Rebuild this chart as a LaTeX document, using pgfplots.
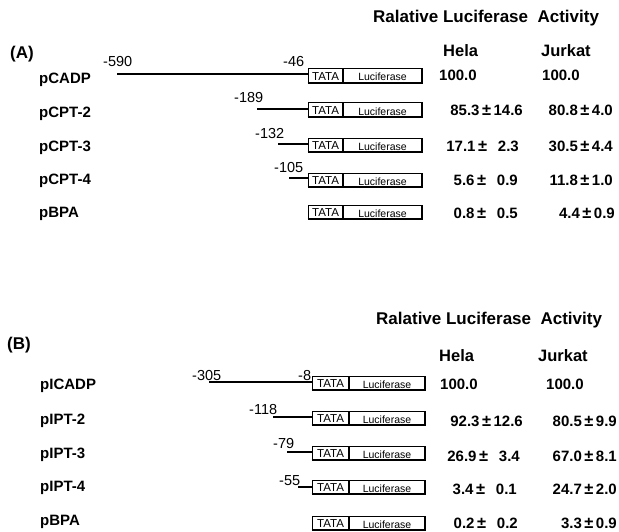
\documentclass[border=0pt]{standalone}
\usepackage{fontspec}
\setmainfont{Liberation Sans}
\usepackage{pgfplots}
\pgfplotsset{compat=1.18}
\newcommand{\fs}[1]{\fontsize{#1bp}{#1bp}\selectfont}
\newcommand{\PM}{\kern2.5bp{\fontsize{16.5bp}{16.5bp}\selectfont ±}\kern2.5bp}
% box row: #1 row y, #2 box left, #3 divider, #4 box right
\newcommand{\boxrow}[4]{%
  \addplot[black, line width=1.0bp] coordinates {(#2,#1-7) (#4,#1-7)};
  \addplot[black, line width=1.0bp] coordinates {(#2,#1-7) (#2,#1+7)};
  \addplot[black, line width=2.0bp] coordinates {(#2-0.5,#1+7) (#4,#1+7) (#4,#1-7.5)};
  \addplot[black, line width=1.3bp] coordinates {(#3,#1-7) (#3,#1+7)};
  \node[anchor=base, font=\fs{11.5}] at (axis cs:{(#2+#3)/2},#1+4.5) {TATA};
  \node[anchor=base, font=\fs{10.5}] at (axis cs:{(#3+#4)/2},#1+5) {Luciferase};
}
\begin{document}
\begin{tikzpicture}[every node/.append style={inner sep=0pt}]
\begin{axis}[
  width=619bp, height=532bp, scale only axis,
  xmin=0, xmax=619, ymin=0, ymax=532, y dir=reverse,
  hide axis, clip=false,
]
\addplot[draw=none, forget plot] coordinates {(0,0) (619,532)};
% ---------- Panel A ----------
\node[anchor=base west, font=\bfseries\fs{17}] at (axis cs:373,23) {Ralative Luciferase\ \ Activity};
\node[anchor=base west, font=\bfseries\fs{17}] at (axis cs:10,59) {(A)};
\node[anchor=base west, font=\bfseries\fs{16.5}] at (axis cs:443,57) {Hela};
\node[anchor=base west, font=\bfseries\fs{16.5}] at (axis cs:541,57) {Jurkat};
% promoter lines
\addplot[black, line width=1.8bp] coordinates {(117,74) (308,74)};
\addplot[black, line width=1.4bp] coordinates {(257,109) (308,109)};
\addplot[black, line width=1.4bp] coordinates {(278,144) (308,144)};
\addplot[black, line width=1.4bp] coordinates {(289,178) (308,178)};
% boxes
\boxrow{76}{308}{343}{422}
\boxrow{110}{308}{343}{422}
\boxrow{145}{308}{343}{422}
\boxrow{180}{308}{343}{422}
\boxrow{212}{308}{343}{422}
% position labels
\node[anchor=base west, font=\fs{14.5}] at (axis cs:103,67) {-590};
\node[anchor=base west, font=\fs{14.5}] at (axis cs:283,67) {-46};
\node[anchor=base west, font=\fs{14.5}] at (axis cs:234,102) {-189};
\node[anchor=base west, font=\fs{14.5}] at (axis cs:255,138) {-132};
\node[anchor=base west, font=\fs{14.5}] at (axis cs:274,172) {-105};
% construct names
\node[anchor=base west, font=\bfseries\fs{15}] at (axis cs:39,84) {pCADP};
\node[anchor=base west, font=\bfseries\fs{15}] at (axis cs:39,117) {pCPT-2};
\node[anchor=base west, font=\bfseries\fs{15}] at (axis cs:39,151) {pCPT-3};
\node[anchor=base west, font=\bfseries\fs{15}] at (axis cs:39,184) {pCPT-4};
\node[anchor=base west, font=\bfseries\fs{15}] at (axis cs:39,217) {pBPA};
% values
\node[anchor=base west, font=\bfseries\fs{15}] at (axis cs:439,81) {100.0};
\node[anchor=base west, font=\bfseries\fs{15}] at (axis cs:542,81) {100.0};
\node[anchor=base east, font=\bfseries\fs{15}] at (axis cs:523,115) {85.3\PM14.6};
\node[anchor=base east, font=\bfseries\fs{15}] at (axis cs:613,115) {80.8\PM4.0};
\node[anchor=base east, font=\bfseries\fs{15}] at (axis cs:519,151) {17.1\PM\ \ 2.3};
\node[anchor=base east, font=\bfseries\fs{15}] at (axis cs:613,151) {30.5\PM4.4};
\node[anchor=base east, font=\bfseries\fs{15}] at (axis cs:518,185) {5.6\PM\ \ 0.9};
\node[anchor=base east, font=\bfseries\fs{15}] at (axis cs:613,185) {11.8\PM1.0};
\node[anchor=base east, font=\bfseries\fs{15}] at (axis cs:518,218) {0.8\PM\ \ 0.5};
\node[anchor=base east, font=\bfseries\fs{15}] at (axis cs:615,218) {4.4\PM0.9};
% ---------- Panel B ----------
\node[anchor=base west, font=\bfseries\fs{17}] at (axis cs:376,324) {Ralative Luciferase\ \ Activity};
\node[anchor=base west, font=\bfseries\fs{17}] at (axis cs:7,349) {(B)};
\node[anchor=base west, font=\bfseries\fs{16.5}] at (axis cs:439,361) {Hela};
\node[anchor=base west, font=\bfseries\fs{16.5}] at (axis cs:538,361) {Jurkat};
\addplot[black, line width=1.4bp] coordinates {(209,382) (312,382)};
\addplot[black, line width=1.4bp] coordinates {(273,417) (312,417)};
\addplot[black, line width=1.4bp] coordinates {(287,452) (312,452)};
\addplot[black, line width=1.4bp] coordinates {(298,487) (312,487)};
\boxrow{383}{312}{349}{425}
\boxrow{418}{312}{349}{425}
\boxrow{453}{312}{349}{425}
\boxrow{487}{312}{349}{425}
\boxrow{523}{312}{349}{425}
\node[anchor=base west, font=\fs{14.5}] at (axis cs:192,380) {-305};
\node[anchor=base west, font=\fs{14.5}] at (axis cs:298,380) {-8};
\node[anchor=base west, font=\fs{14.5}] at (axis cs:249,414) {-118};
\node[anchor=base west, font=\fs{14.5}] at (axis cs:273,448) {-79};
\node[anchor=base west, font=\fs{14.5}] at (axis cs:279,485) {-55};
\node[anchor=base west, font=\bfseries\fs{15}] at (axis cs:40,389) {pICADP};
\node[anchor=base west, font=\bfseries\fs{15}] at (axis cs:40,424) {pIPT-2};
\node[anchor=base west, font=\bfseries\fs{15}] at (axis cs:40,458) {pIPT-3};
\node[anchor=base west, font=\bfseries\fs{15}] at (axis cs:40,491) {pIPT-4};
\node[anchor=base west, font=\bfseries\fs{15}] at (axis cs:40,525) {pBPA};
\node[anchor=base west, font=\bfseries\fs{15}] at (axis cs:440,389) {100.0};
\node[anchor=base west, font=\bfseries\fs{15}] at (axis cs:546,389) {100.0};
\node[anchor=base east, font=\bfseries\fs{15}] at (axis cs:523,426) {92.3\PM12.6};
\node[anchor=base east, font=\bfseries\fs{15}] at (axis cs:617,426) {80.5\PM9.9};
\node[anchor=base east, font=\bfseries\fs{15}] at (axis cs:520,461) {26.9\PM\ \ 3.4};
\node[anchor=base east, font=\bfseries\fs{15}] at (axis cs:617,461) {67.0\PM8.1};
\node[anchor=base east, font=\bfseries\fs{15}] at (axis cs:517,494) {3.4\PM\ \ 0.1};
\node[anchor=base east, font=\bfseries\fs{15}] at (axis cs:617,494) {24.7\PM2.0};
\node[anchor=base east, font=\bfseries\fs{15}] at (axis cs:518,528) {0.2\PM\ \ 0.2};
\node[anchor=base east, font=\bfseries\fs{15}] at (axis cs:617,528) {3.3\PM0.9};
\end{axis}
\end{tikzpicture}
\end{document}
